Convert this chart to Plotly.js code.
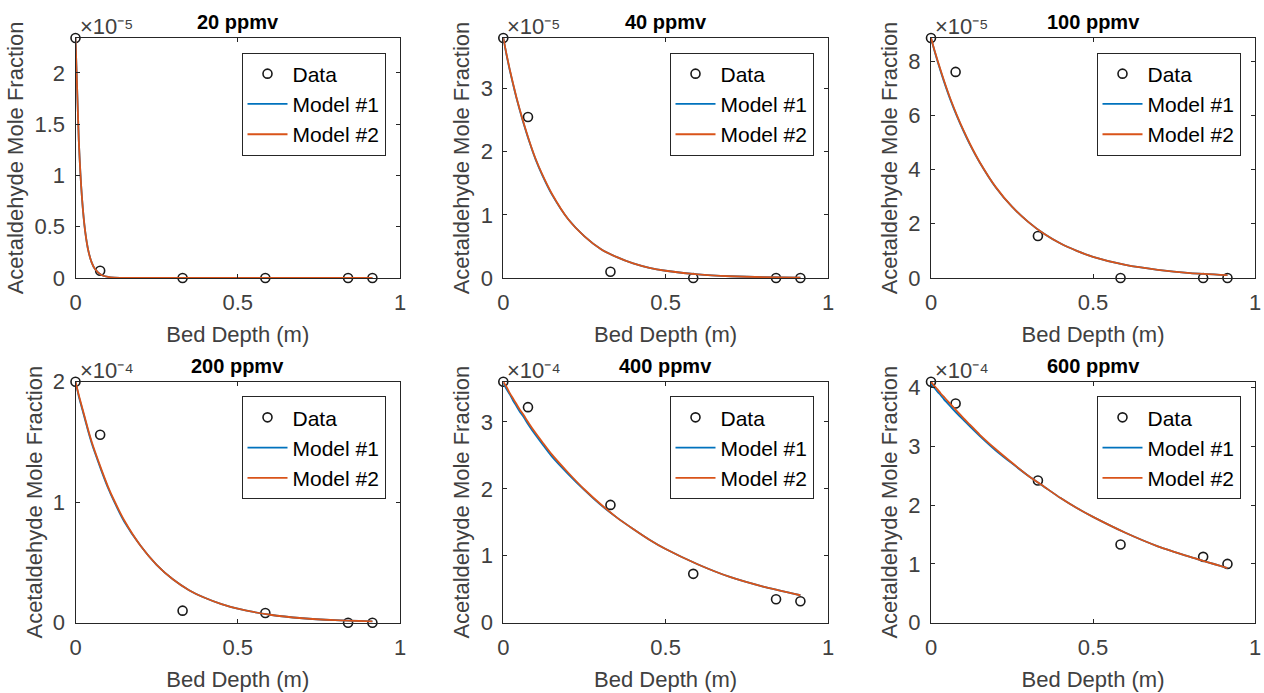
<!DOCTYPE html>
<html>
<head>
<meta charset="utf-8">
<script src="https://cdn.plot.ly/plotly-3.0.1.min.js"></script>
<style>
  html, body { margin: 0; padding: 0; background: #ffffff; }
  #chart { width: 1264px; height: 693px; }
</style>
</head>
<body>
<div id="chart"></div>
<script>
// ---------------- Data ----------------
const panelTitles = ['20 ppmv', '40 ppmv', '100 ppmv', '200 ppmv', '400 ppmv', '600 ppmv'];
const exponentLabels = ['×10⁻⁵', '×10⁻⁵', '×10⁻⁵', '×10⁻⁴', '×10⁻⁴', '×10⁻⁴'];
const yMax = [2.34, 3.8, 8.85, 2.0, 3.6, 4.1];
const yTickVals = [
  [0, 0.5, 1, 1.5, 2],
  [0, 1, 2, 3],
  [0, 2, 4, 6, 8],
  [0, 1, 2],
  [0, 1, 2, 3],
  [0, 1, 2, 3, 4]
];
const xTickVals = [0, 0.5, 1];

// Measured bed depths (m)
const dataDepth = [0, 0.076, 0.33, 0.585, 0.84, 0.915];
// Measured mole fractions (in units of the panel's exponent label)
const data20 = [2.34, 0.07, 0, 0, 0, 0];
const data40 = [3.8, 2.55, 0.1, 0, 0, 0];
const data100 = [8.85, 7.6, 1.55, 0, 0, 0];
const data200 = [2.0, 1.56, 0.1, 0.08, 0, 0];
const data400 = [3.6, 3.22, 1.76, 0.73, 0.35, 0.32];
const data600 = [4.1, 3.73, 2.42, 1.33, 1.12, 1.0];

// Depths at which the model curves were read
const modelDepth = [0, 0.01, 0.02, 0.03, 0.04, 0.05, 0.06, 0.08, 0.1, 0.12, 0.15, 0.2,
                    0.25, 0.3, 0.35, 0.4, 0.45, 0.5, 0.6, 0.7, 0.8, 0.915];

// Model #1 curves
const m1_20  = [2.34, 1.35, 0.78, 0.45, 0.26, 0.15, 0.087, 0.029, 0.01, 0.003, 0.001, 0, 0, 0, 0, 0, 0, 0, 0, 0, 0, 0];
const m1_40  = [3.8, 3.53, 3.29, 3.07, 2.86, 2.67, 2.49, 2.16, 1.87, 1.63, 1.32, 0.93, 0.66, 0.46, 0.33, 0.23, 0.16, 0.115, 0.057, 0.028, 0.014, 0.006];
const m1_100 = [8.85, 8.41, 8.0, 7.62, 7.25, 6.9, 6.57, 5.97, 5.43, 4.93, 4.27, 3.34, 2.63, 2.07, 1.62, 1.27, 1.0, 0.78, 0.48, 0.3, 0.18, 0.105];
const m1_200 = [2.0, 1.88, 1.78, 1.68, 1.58, 1.49, 1.41, 1.26, 1.12, 1.0, 0.84, 0.64, 0.48, 0.36, 0.27, 0.205, 0.154, 0.116, 0.066, 0.037, 0.021, 0.011];
const m1_400 = [3.58, 3.49, 3.41, 3.32, 3.24, 3.16, 3.09, 2.94, 2.8, 2.67, 2.48, 2.22, 1.98, 1.76, 1.57, 1.4, 1.24, 1.1, 0.87, 0.68, 0.54, 0.41];
const m1_600 = [4.07, 4.0, 3.93, 3.87, 3.8, 3.74, 3.68, 3.56, 3.45, 3.34, 3.18, 2.93, 2.71, 2.5, 2.31, 2.12, 1.95, 1.8, 1.53, 1.3, 1.12, 0.93];

// Model #2 curves
const m2_20  = [2.34, 1.35, 0.78, 0.45, 0.26, 0.15, 0.087, 0.029, 0.01, 0.003, 0.001, 0, 0, 0, 0, 0, 0, 0, 0, 0, 0, 0];
const m2_40  = [3.8, 3.54, 3.3, 3.08, 2.87, 2.68, 2.5, 2.17, 1.88, 1.64, 1.33, 0.93, 0.66, 0.46, 0.33, 0.23, 0.16, 0.115, 0.057, 0.028, 0.014, 0.006];
const m2_100 = [8.85, 8.43, 8.03, 7.65, 7.28, 6.93, 6.6, 6.0, 5.45, 4.95, 4.28, 3.35, 2.63, 2.07, 1.62, 1.27, 1.0, 0.78, 0.48, 0.3, 0.18, 0.105];
const m2_200 = [2.0, 1.89, 1.79, 1.69, 1.59, 1.5, 1.42, 1.27, 1.13, 1.01, 0.85, 0.64, 0.48, 0.36, 0.27, 0.205, 0.154, 0.116, 0.066, 0.037, 0.021, 0.011];
const m2_400 = [3.6, 3.52, 3.43, 3.35, 3.27, 3.19, 3.12, 2.97, 2.83, 2.7, 2.51, 2.24, 1.99, 1.77, 1.57, 1.4, 1.24, 1.1, 0.87, 0.68, 0.54, 0.41];
const m2_600 = [4.1, 4.03, 3.97, 3.9, 3.84, 3.78, 3.72, 3.6, 3.48, 3.37, 3.2, 2.95, 2.72, 2.5, 2.31, 2.12, 1.95, 1.8, 1.53, 1.3, 1.12, 0.93];

const dataSeries = [data20, data40, data100, data200, data400, data600];
const model1Series = [m1_20, m1_40, m1_100, m1_200, m1_400, m1_600];
const model2Series = [m2_20, m2_40, m2_100, m2_200, m2_400, m2_600];

const xTitle = 'Bed Depth (m)';
const yTitle = 'Acetaldehyde Mole Fraction';
const legendNames = ['Data', 'Model #1', 'Model #2'];

// ---------------- Layout geometry ----------------
const W = 1264, H = 693;
const colPx = [[75.5, 400], [503.3, 828], [931, 1255]];
const rowPx = [[38, 278], [381.7, 622.7]];

const FONT = 'Liberation Sans, Arial, Helvetica, sans-serif';
const TXT = '#404040';
const AX = '#262626';
const C1 = '#0072BD';
const C2 = '#D95319';

const traces = [];
const layout = {
  width: W, height: H,
  margin: {l: 0, r: 0, t: 0, b: 0},
  paper_bgcolor: '#ffffff',
  plot_bgcolor: '#ffffff',
  font: {family: FONT, size: 22, color: TXT},
  showlegend: true,
  annotations: []
};

for (let i = 0; i < 6; i++) {
  const r = Math.floor(i / 3), c = i % 3;
  const sfx = i === 0 ? '' : String(i + 1);
  const xa = 'x' + sfx, ya = 'y' + sfx;
  const leg = 'legend' + sfx;
  const xd = [colPx[c][0] / W, colPx[c][1] / W];
  const yd = [(H - rowPx[r][1]) / H, (H - rowPx[r][0]) / H];

  traces.push({
    type: 'scatter', mode: 'markers', x: dataDepth, y: dataSeries[i],
    xaxis: xa, yaxis: ya, name: legendNames[0], legend: leg, cliponaxis: false,
    marker: {symbol: 'circle-open', size: 9, color: '#1a1a1a', line: {width: 1.6, color: '#1a1a1a'}}
  });
  traces.push({
    type: 'scatter', mode: 'lines', x: modelDepth, y: model1Series[i],
    xaxis: xa, yaxis: ya, name: legendNames[1], legend: leg, cliponaxis: false,
    line: {color: C1, width: 1.8, shape: 'spline', smoothing: 0.6}
  });
  traces.push({
    type: 'scatter', mode: 'lines', x: modelDepth, y: model2Series[i],
    xaxis: xa, yaxis: ya, name: legendNames[2], legend: leg, cliponaxis: false,
    line: {color: C2, width: 1.8, shape: 'spline', smoothing: 0.6}
  });

  const common = {
    showline: true, linecolor: AX, linewidth: 1, mirror: 'ticks',
    ticks: 'inside', ticklen: 4, tickwidth: 1, tickcolor: AX,
    showgrid: false, zeroline: false, fixedrange: true,
    tickfont: {family: FONT, size: 22, color: TXT}
  };
  layout['xaxis' + sfx] = Object.assign({}, common, {
    domain: xd, anchor: ya, range: [0, 1],
    tickmode: 'array', tickvals: xTickVals, ticktext: xTickVals.map(String),
    ticklabelstandoff: 5,
    title: {text: xTitle, font: {family: FONT, size: 22, color: TXT}, standoff: 12}
  });
  layout['yaxis' + sfx] = Object.assign({}, common, {
    domain: yd, anchor: xa, range: [0, yMax[i]],
    tickmode: 'array', tickvals: yTickVals[i], ticktext: yTickVals[i].map(String),
    ticklabelstandoff: 5,
    title: {text: yTitle, font: {family: FONT, size: 22, color: TXT}, standoff: 4}
  });

  layout[leg] = {
    x: (colPx[c][1] - 14.5) / W, xanchor: 'right',
    y: (H - (rowPx[r][0] + 14.5)) / H, yanchor: 'top',
    bgcolor: '#ffffff', bordercolor: AX, borderwidth: 1,
    itemwidth: 40,
    font: {family: FONT, size: 21, color: '#000000'},
    tracegroupgap: 0
  };

  // subplot title
  layout.annotations.push({
    text: panelTitles[i], xref: 'paper', yref: 'paper',
    x: (xd[0] + xd[1]) / 2, y: yd[1], xanchor: 'center', yanchor: 'bottom', yshift: 3,
    showarrow: false, font: {family: FONT, size: 20, color: '#000000', weight: 'bold'}
  });
  // exponent label
  layout.annotations.push({
    text: exponentLabels[i], xref: 'paper', yref: 'paper',
    x: xd[0], y: yd[1], xanchor: 'left', yanchor: 'bottom', xshift: 2, yshift: -3,
    showarrow: false, font: {family: FONT, size: 22, color: TXT}
  });
}

Plotly.newPlot('chart', traces, layout, {staticPlot: true, displayModeBar: false});
</script>
</body>
</html>
